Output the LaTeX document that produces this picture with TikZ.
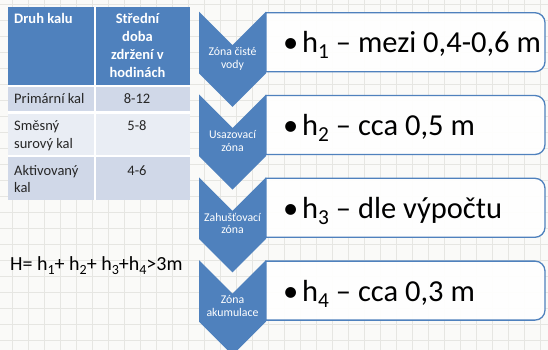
\documentclass[tikz,border=0pt]{standalone}
\usepackage{fontspec}
\usepackage{graphicx}
\setmainfont{Carlito}
\definecolor{accent}{HTML}{4F81BD}
\definecolor{rowdark}{HTML}{D0D8E8}
\definecolor{rowlight}{HTML}{E9EDF4}
\definecolor{paper}{HTML}{FAFAF8}
\definecolor{gridgray}{HTML}{E6E6E2}
% lowered index as in h_1
\newcommand\lowidx[1]{\raisebox{-0.2em}{\scalebox{0.7}{#1}}}
\begin{document}
\begin{tikzpicture}[x=1pt,y=-1pt,
  gridline/.style={gridgray,line width=0.6pt},
  cellsep/.style={white,line width=2pt},
  headtxt/.style={inner sep=0pt,text=white,font=\fontsize{14.5}{17}\selectfont\bfseries},
  celltxt/.style={inner sep=0pt,text=black!85,font=\fontsize{14.5}{17}\selectfont},
  chevron/.style={fill=accent},
  chevtxt/.style={inner sep=0pt,text=white,font=\fontsize{11.8}{13}\selectfont,anchor=base},
  zonebox/.style={draw=accent,line width=1.3pt,fill=white,fill opacity=0.92,draw opacity=1},
  boxtxt/.style={inner sep=0pt,anchor=base west,font=\fontsize{30.5}{34}\selectfont},
  formula/.style={inner sep=0pt,anchor=base west,font=\fontsize{20}{24}\selectfont}]
\useasboundingbox (0,0) rectangle (548,350);
% squared paper
\fill[paper] (0,0) rectangle (548,350);
\foreach \gx in {12.3,28.3,...,548} \draw[gridline] (\gx,0) -- (\gx,350);
\foreach \gy in {4.3,20.3,...,350} \draw[gridline] (0,\gy) -- (548,\gy);

% table
\fill[accent] (8.3,6.7) rectangle (190,86);
\fill[rowdark] (8.3,86) rectangle (190,112.5);
\fill[rowlight] (8.3,112.5) rectangle (190,156);
\fill[rowdark] (8.3,156) rectangle (190,199.5);
\draw[cellsep] (94.5,6.7) -- (94.5,199.5);
\draw[cellsep] (8.3,86) -- (190,86);
\draw[cellsep] (8.3,112.5) -- (190,112.5);
\draw[cellsep] (8.3,156) -- (190,156);

\node[headtxt,anchor=base west] (hA) at (14,24) {Druh kalu};
\node[headtxt,anchor=base] (hB1) at (137.5,24) {Střední};
\node[headtxt,anchor=base] (hB2) at (137.5,42) {doba};
\node[headtxt,anchor=base] (hB3) at (137.5,60) {zdržení v};
\node[headtxt,anchor=base] (hB4) at (137.5,77.5) {hodinách};

\node[celltxt,anchor=base west] (r1a) at (14,103.5) {Primární kal};
\node[celltxt,anchor=base] (r1b) at (137,103.5) {8-12};
\node[celltxt,anchor=base west] (r2a) at (14,130.5) {Směsný};
\node[celltxt,anchor=base west] (r2c) at (14,148) {surový kal};
\node[celltxt,anchor=base] (r2b) at (137,130.5) {5-8};
\node[celltxt,anchor=base west] (r3a) at (14,175.5) {Aktivovaný};
\node[celltxt,anchor=base west] (r3c) at (14,192.5) {kal};
\node[celltxt,anchor=base] (r3b) at (137,175.5) {4-6};

% total height
\node[formula] (total) at (10,270.5)
  {H= h\lowidx{1}+ h\lowidx{2}+ h\lowidx{3}+h\lowidx{4}>3m};

% zones: chevron, label and value box
\foreach \i/\la/\lb/\val in {
  1/{Zóna čisté}/{vody}/{mezi 0,4-0,6 m},
  2/{Usazovací}/{zóna}/{cca 0,5 m},
  3/{Zahušťovací}/{zóna}/{dle výpočtu},
  4/{Zóna}/{akumulace}/{cca 0,3 m}}{
  \pgfmathsetmacro\t{11.7+82.8*(\i-1)}
  \fill[chevron] (199,\t) -- (232.5,\t+33.5) -- (266,\t) -- (266,\t+61.6)
    -- (232.5,\t+95.1) -- (199,\t+61.6) -- cycle;
  \draw[zonebox] (266,\t+1) -- (535,\t+1)
    arc[start angle=90,end angle=0,radius=10pt] -- (545,\t+50)
    arc[start angle=0,end angle=-90,radius=10pt] -- (266,\t+60) -- cycle;
  \node[chevtxt] (lab\i a) at (232.5,\t+43.8) {\la};
  \node[chevtxt] (lab\i b) at (232.5,\t+56.5) {\lb};
  \node[boxtxt] (val\i) at (283,\t+41)
    {\makebox[19pt][l]{•}h\lowidx{\i} – \val};
}
\end{tikzpicture}
\end{document}
